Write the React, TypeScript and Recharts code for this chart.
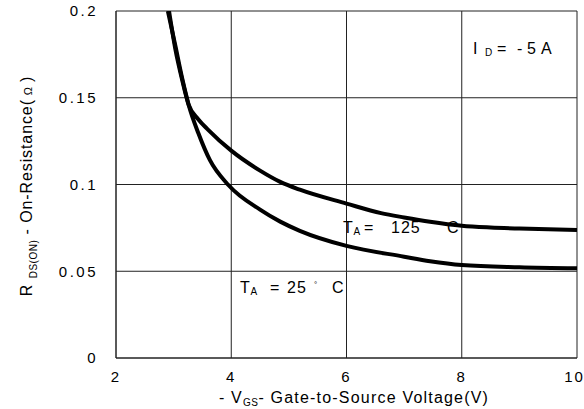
import React from 'react';
import { LineChart, Line, XAxis, YAxis, CartesianGrid } from 'recharts';

const xTicks = [2, 4, 6, 8, 10];
const yTicks = [0, 0.05, 0.1, 0.15, 0.2];

const vgs25 = [2.9, 3.03, 3.15, 3.26, 3.43, 3.63, 3.95, 4.5, 4.85, 5.19, 6, 7, 7.45, 8, 9, 10];
const r25 = [0.2, 0.18, 0.161, 0.146, 0.1295, 0.114, 0.0997, 0.0855, 0.0786, 0.0733, 0.0646, 0.0584, 0.0558, 0.0536, 0.0523, 0.0517];

const vgs125 = [2.92, 3.03, 3.15, 3.26, 3.43, 3.6, 4.0, 4.5, 4.85, 5.19, 6, 6.6, 7, 7.45, 8, 8.5, 9, 10];
const r125 = [0.2, 0.178, 0.16, 0.146, 0.1375, 0.1315, 0.1195, 0.108, 0.1015, 0.097, 0.089, 0.0835, 0.081, 0.0785, 0.0762, 0.0752, 0.0746, 0.0738];

const data25 = vgs25.map((v, i) => ({ v, r: r25[i] }));
const data125 = vgs125.map((v, i) => ({ v, r: r125[i] }));

const FONT = '"Liberation Sans", Arial, sans-serif';

const fmtY = (v: number) => (v === 0 ? '0' : String(v));

export default function App() {
  return (
    <div style={{ position: 'absolute', left: 0, top: 0, width: 584, height: 409, background: '#fff' }}>
      <LineChart width={584} height={409} margin={{ top: 11, right: 7, bottom: 0, left: 0 }}>
        <CartesianGrid stroke="#222" strokeWidth={1} />
        <XAxis
          type="number"
          dataKey="v"
          domain={[2, 10]}
          ticks={xTicks}
          allowDataOverflow
          height={51}
          axisLine={{ stroke: '#222' }}
          tickLine={false}
          tickSize={0}
          tickMargin={13}
          tick={{ fill: '#000', fontSize: 15, fontFamily: FONT, letterSpacing: 2 }}
        />
        <YAxis
          type="number"
          domain={[0, 0.2]}
          ticks={yTicks}
          allowDataOverflow
          width={116}
          axisLine={{ stroke: '#222' }}
          tickLine={false}
          tickSize={0}
          tickMargin={18}
          tickFormatter={fmtY}
          tick={{ fill: '#000', fontSize: 15, fontFamily: FONT, letterSpacing: 2.5 }}
        />
        <Line data={data25} dataKey="r" type="monotone" stroke="#000" strokeWidth={4} dot={false} isAnimationActive={false} />
        <Line data={data125} dataKey="r" type="monotone" stroke="#000" strokeWidth={4} dot={false} isAnimationActive={false} />
        <text x={354} y={403} textAnchor="middle" fontFamily={FONT} fontSize={16} letterSpacing={1.2} fill="#000">
          - V<tspan dy={3} fontSize={10} letterSpacing={0.5}>GS</tspan><tspan dy={-3}>- Gate-to-Source Voltage(V)</tspan>
        </text>
        <text transform="translate(32,186) rotate(-90)" textAnchor="middle" fontFamily={FONT} fontSize={16} letterSpacing={0.9} fill="#000">
          R <tspan dy={5} fontSize={10} letterSpacing={0.5}>DS(ON)</tspan><tspan dy={-5}> - On-Resistance(</tspan><tspan fontSize={11}> Ω </tspan><tspan>)</tspan>
        </text>
        <text y={54} fontFamily={FONT} fontSize={16} fill="#000">
          <tspan x={473}>I</tspan><tspan x={485} dy={2} fontSize={10}>D</tspan><tspan x={497} dy={-2}>=</tspan><tspan x={517}>-</tspan><tspan x={527}>5</tspan><tspan x={541}>A</tspan>
        </text>
        <text y={233} fontFamily={FONT} fontSize={16} fill="#000">
          <tspan x={343}>T</tspan><tspan x={353.5} dy={2} fontSize={10}>A</tspan><tspan x={364} dy={-2}>=</tspan><tspan x={391} letterSpacing={1}>125</tspan><tspan x={447}>C</tspan>
        </text>
        <text y={293} fontFamily={FONT} fontSize={16} fill="#000">
          <tspan x={240}>T</tspan><tspan x={250.5} dy={2} fontSize={10}>A</tspan><tspan x={270} dy={-2}>=</tspan><tspan x={287} letterSpacing={1}>25</tspan><tspan x={314} dy={-6} fontSize={8}>°</tspan><tspan x={332} dy={6}>C</tspan>
        </text>
      </LineChart>
    </div>
  );
}
